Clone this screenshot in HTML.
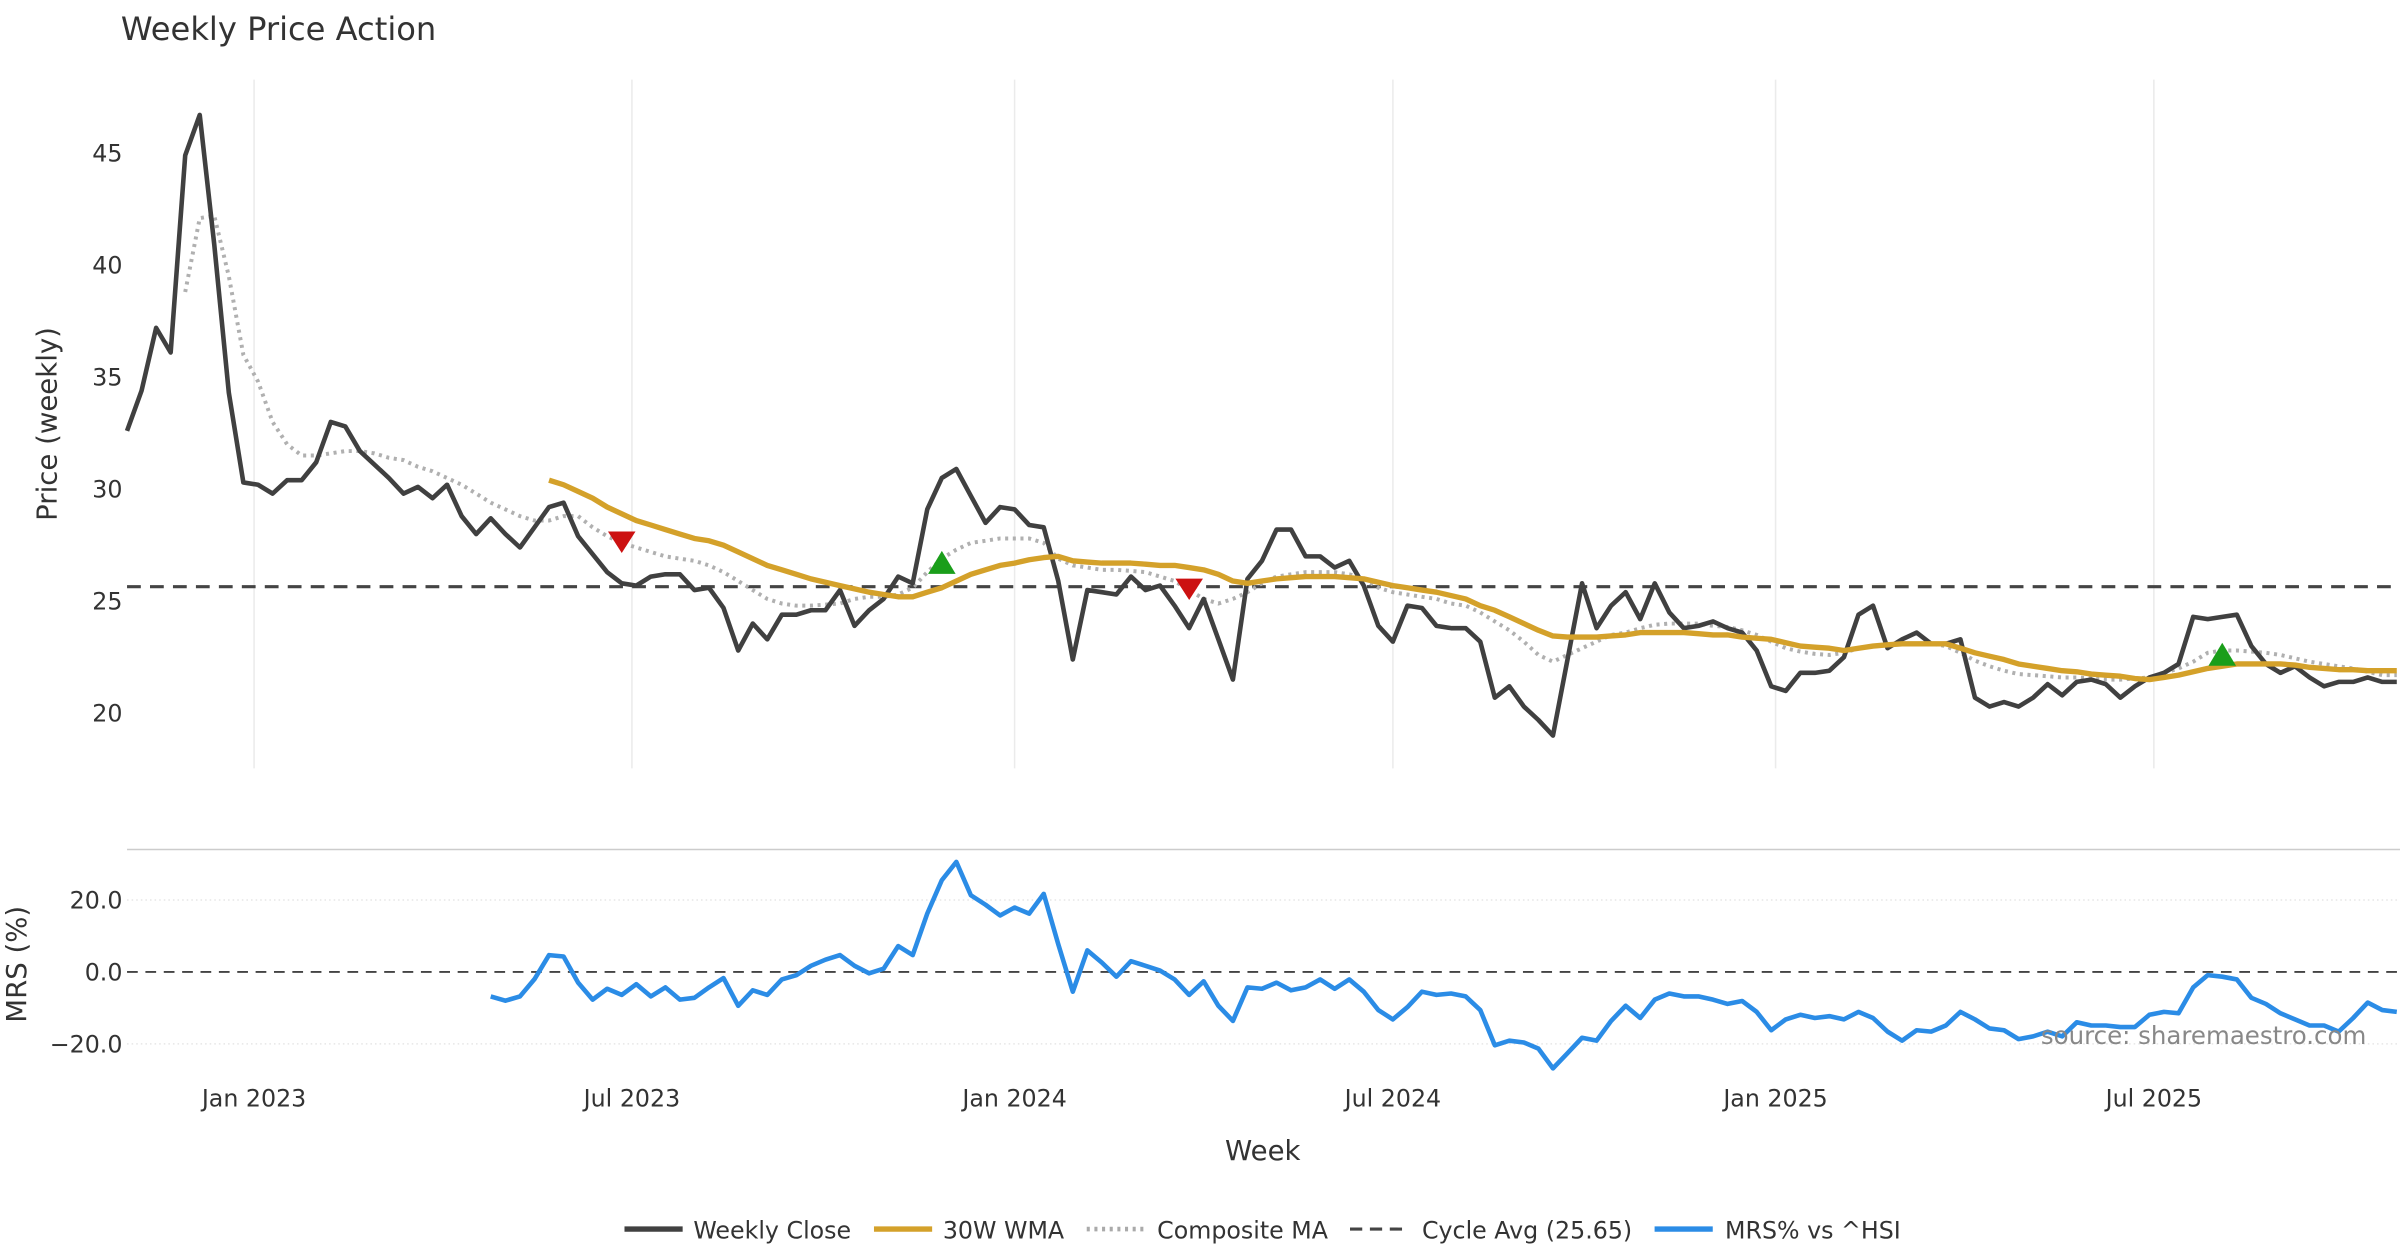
<!DOCTYPE html>
<html><head><meta charset="utf-8"><style>
html,body{margin:0;padding:0;background:#fff;}
svg{display:block;font-family:"DejaVu Sans","Liberation Sans",sans-serif;}
</style></head><body>
<svg id="chart" width="2400" height="1260" viewBox="0 0 1568 823.2" xmlns="http://www.w3.org/2000/svg">
<rect width="1568" height="823.2" fill="#fff"/>
<text x="79" y="26" font-size="21" fill="#333">Weekly Price Action</text>
<g id="grid"></g>
<g id="series"></g>
<g id="axes"></g>
<text transform="translate(37,277) rotate(-90)" text-anchor="middle" font-size="18" fill="#333">Price (weekly)</text>
<text transform="translate(17,630) rotate(-90)" text-anchor="middle" font-size="18" fill="#333">MRS (%)</text>
<text x="825" y="758" text-anchor="middle" font-size="18" fill="#333">Week</text>
<text x="1546" y="682" text-anchor="end" font-size="16" fill="#888">source: sharemaestro.com</text>
<g font-size="15.5" fill="#333">
<line x1="408" y1="803" x2="446" y2="803" stroke="#404040" stroke-width="3.5"/>
<text x="453" y="809">Weekly Close</text>
<line x1="571" y1="803" x2="609" y2="803" stroke="#d4a12a" stroke-width="3.5"/>
<text x="616" y="809">30W WMA</text>
<line x1="710" y1="803" x2="748" y2="803" stroke="#aaa" stroke-width="3" stroke-dasharray="2,3"/>
<text x="756" y="809">Composite MA</text>
<line x1="882" y1="803" x2="920" y2="803" stroke="#444" stroke-width="2" stroke-dasharray="8,5"/>
<text x="929" y="809">Cycle Avg (25.65)</text>
<line x1="1081" y1="803" x2="1119" y2="803" stroke="#2b8ce6" stroke-width="3.5"/>
<text x="1127" y="809">MRS% vs ^HSI</text>
</g>
</svg>
<script>
const closeVals=[32.6,34.4,37.2,36.1,44.9,46.7,40.9,34.3,30.3,30.2,29.8,30.4,30.4,31.2,33.0,32.8,31.7,31.1,30.5,29.8,30.1,29.6,30.2,28.8,28.0,28.7,28.0,27.4,28.3,29.2,29.4,27.9,27.1,26.3,25.8,25.7,26.1,26.2,26.2,25.5,25.6,24.7,22.8,24.0,23.3,24.4,24.4,24.6,24.6,25.5,23.9,24.6,25.1,26.1,25.8,29.1,30.5,30.9,29.7,28.5,29.2,29.1,28.4,28.3,25.9,22.4,25.5,25.4,25.3,26.1,25.5,25.7,24.8,23.8,25.1,23.3,21.5,26.0,26.8,28.2,28.2,27.0,27.0,26.5,26.8,25.7,23.9,23.2,24.8,24.7,23.9,23.8,23.8,23.2,20.7,21.2,20.3,19.7,19.0,22.4,25.8,23.8,24.8,25.4,24.2,25.8,24.5,23.8,23.9,24.1,23.8,23.6,22.8,21.2,21.0,21.8,21.8,21.9,22.5,24.4,24.8,22.9,23.3,23.6,23.1,23.1,23.3,20.7,20.3,20.5,20.3,20.7,21.3,20.8,21.4,21.5,21.3,20.7,21.2,21.6,21.8,22.2,24.3,24.2,24.3,24.4,23.0,22.2,21.8,22.1,21.6,21.2,21.4,21.4,21.6,21.4,21.4];
const wmaStart=29;
const wmaVals=[30.4,30.2,29.9,29.6,29.2,28.9,28.6,28.4,28.2,28.0,27.8,27.7,27.5,27.2,26.9,26.6,26.4,26.2,26.0,25.85,25.7,25.55,25.4,25.3,25.2,25.2,25.4,25.6,25.9,26.2,26.4,26.6,26.7,26.85,26.95,27.0,26.8,26.75,26.7,26.7,26.7,26.65,26.6,26.6,26.5,26.4,26.2,25.9,25.8,25.9,26.0,26.05,26.1,26.1,26.1,26.05,26.0,25.85,25.7,25.6,25.5,25.4,25.25,25.1,24.8,24.6,24.3,24.0,23.7,23.45,23.4,23.4,23.4,23.45,23.5,23.6,23.6,23.6,23.6,23.55,23.5,23.5,23.4,23.35,23.3,23.15,23.0,22.95,22.9,22.8,22.9,23.0,23.05,23.1,23.1,23.1,23.1,22.9,22.7,22.55,22.4,22.2,22.1,22.0,21.9,21.85,21.75,21.7,21.65,21.55,21.5,21.6,21.7,21.85,22.0,22.1,22.2,22.2,22.2,22.2,22.15,22.05,22.0,21.95,21.95,21.9,21.9,21.9];
const compStart=4;
const compVals=[38.8,42.1,42.2,39.5,36.0,34.8,33.0,32.0,31.5,31.5,31.6,31.7,31.7,31.6,31.4,31.3,31.0,30.8,30.5,30.2,29.8,29.4,29.1,28.8,28.6,28.6,28.8,28.8,28.3,27.9,27.6,27.4,27.2,27.0,26.9,26.8,26.6,26.3,25.9,25.5,25.1,24.9,24.8,24.8,24.85,24.9,25.1,25.2,25.2,25.3,25.6,26.3,26.9,27.3,27.6,27.7,27.8,27.8,27.8,27.6,26.9,26.6,26.5,26.4,26.4,26.35,26.3,26.1,25.9,25.5,25.1,24.9,25.1,25.4,25.8,26.1,26.2,26.3,26.3,26.3,26.2,26.0,25.6,25.4,25.3,25.2,25.1,24.9,24.8,24.5,24.1,23.7,23.2,22.6,22.3,22.6,22.9,23.2,23.5,23.6,23.8,23.95,24.0,24.0,24.0,23.9,23.85,23.7,23.5,23.2,22.9,22.75,22.65,22.6,22.7,22.9,23.0,23.05,23.1,23.1,23.1,23.0,22.7,22.35,22.1,21.9,21.75,21.7,21.65,21.6,21.6,21.55,21.5,21.5,21.55,21.6,21.8,22.0,22.3,22.7,22.8,22.8,22.75,22.7,22.6,22.45,22.3,22.2,22.1,22.0,21.85,21.7,21.7];
const mrsStart=25;
const mrsVals=[-6.8,-8,-6.8,-2,4.7,4.3,-3,-7.7,-4.7,-6.4,-3.4,-6.8,-4.3,-7.7,-7.2,-4.3,-1.7,-9.4,-5.1,-6.4,-2.1,-0.9,1.7,3.4,4.7,1.7,-0.4,0.9,7.2,4.7,16.2,25.5,30.6,21.3,18.7,15.7,17.9,16.2,21.7,7.7,-5.5,6,2.6,-1.3,3,1.7,0.4,-2.1,-6.4,-2.6,-9.4,-13.6,-4.3,-4.7,-3,-5.1,-4.3,-2.1,-4.7,-2.1,-5.5,-10.6,-13.2,-9.8,-5.5,-6.4,-6,-6.8,-10.6,-20.4,-19.1,-19.6,-21.3,-26.8,-22.6,-18.3,-19.1,-13.6,-9.4,-12.8,-7.7,-6,-6.8,-6.8,-7.7,-8.9,-8.1,-11.1,-16.2,-13.2,-11.9,-12.8,-12.3,-13.2,-11.1,-12.8,-16.6,-19.1,-16.2,-16.6,-14.9,-11.1,-13.2,-15.7,-16.2,-18.7,-17.9,-16.6,-17.9,-14,-14.9,-14.9,-15.3,-15.3,-11.9,-11.1,-11.5,-4.3,-0.9,-1.3,-2.1,-7.2,-8.9,-11.5,-13.2,-14.9,-14.9,-16.6,-12.8,-8.5,-10.6,-11.1];
const cycleAvg=25.65;
const priceTicks=[20,25,30,35,40,45];
const mrsTicks=[-20,0,20];
const mrsTickLabels=["\u221220.0","0.0","20.0"];
const dateTickIdx=[8.73,34.7,61.0,87.0,113.3,139.3];
const dateTickLabels=["Jan 2023","Jul 2023","Jan 2024","Jul 2024","Jan 2025","Jul 2025"];
const sellIdx=[34,73];const sellVals=[27.7,25.6];
const buyIdx=[56,144];const buyVals=[26.7,22.6];

const NS="http://www.w3.org/2000/svg";
const X=i=>83+i*9.506;
const YP=p=>100+(45-p)*14.64;
const YM=m=>635-m*2.35;
function mk(tag,attrs,parent){const e=document.createElementNS(NS,tag);for(const k in attrs)e.setAttribute(k,attrs[k]);parent.appendChild(e);return e;}
const grid=document.getElementById('grid'),ser=document.getElementById('series'),ax=document.getElementById('axes');
dateTickIdx.forEach((t,k)=>{
  const g=mk('line',{x1:X(t),x2:X(t),y1:52,y2:502,stroke:'#ebebeb','stroke-width':1},grid);
  
  
  const tx=mk('text',{x:X(t),y:723,'text-anchor':'middle','font-size':15.5,fill:'#333'},ax);
  tx.textContent=dateTickLabels[k];
  
  
});
priceTicks.forEach(p=>{
  const tx=mk('text',{x:80,y:YP(p)+5.5,'text-anchor':'end','font-size':15.5,fill:'#333'},ax);
  tx.textContent=p;
  
  
});
const sep=mk('line',{x1:83,x2:1568,y1:555,y2:555,stroke:'#ccc','stroke-width':1},grid);


mrsTicks.forEach((m,k)=>{
  if(m!==0){const gl=mk('line',{x1:83,x2:1568,y1:YM(m),y2:YM(m),stroke:'#e6e6e6','stroke-width':1,'stroke-dasharray':'1,2'},grid);
  
  }
  const tx=mk('text',{x:80,y:YM(m)+5.5,'text-anchor':'end','font-size':15.5,fill:'#333'},ax);
  tx.textContent=mrsTickLabels[k];
  
  
});
function path(vals,start,yf){return vals.map((v,i)=>(i?'L':'M')+X(start+i).toFixed(1)+','+yf(v).toFixed(1)).join(' ');}
const ca=mk('line',{x1:83,x2:1568,y1:YP(cycleAvg),y2:YP(cycleAvg),stroke:'#444','stroke-width':2,'stroke-dasharray':'9,6'},ser);


const zl=mk('line',{x1:83,x2:1568,y1:YM(0),y2:YM(0),stroke:'#444','stroke-width':1.2,'stroke-dasharray':'7,5'},ser);


const cp=mk('path',{d:path(compVals,compStart,YP),fill:'none',stroke:'#b0b0b0','stroke-width':2.6,'stroke-dasharray':'2,3'},ser);


const cl=mk('path',{d:path(closeVals,0,YP),fill:'none',stroke:'#404040','stroke-width':3,'stroke-linejoin':'round'},ser);


const wm=mk('path',{d:path(wmaVals,wmaStart,YP),fill:'none',stroke:'#d4a12a','stroke-width':3.5,'stroke-linejoin':'round'},ser);


const mr=mk('path',{d:path(mrsVals,mrsStart,YM),fill:'none',stroke:'#2b8ce6','stroke-width':3,'stroke-linejoin':'round'},ser);


sellIdx.forEach((s,k)=>{const x=X(s),y=YP(sellVals[k]);
  const t=mk('polygon',{points:`${x-9},${y-6} ${x+9},${y-6} ${x},${y+8}`,fill:'#cc1111'},ser);
  
  });
buyIdx.forEach((s,k)=>{const x=X(s),y=YP(buyVals[k]);
  const t=mk('polygon',{points:`${x-9},${y+7} ${x+9},${y+7} ${x},${y-8}`,fill:'#1a9e1a'},ser);
  
  });
</script>
</body></html>
